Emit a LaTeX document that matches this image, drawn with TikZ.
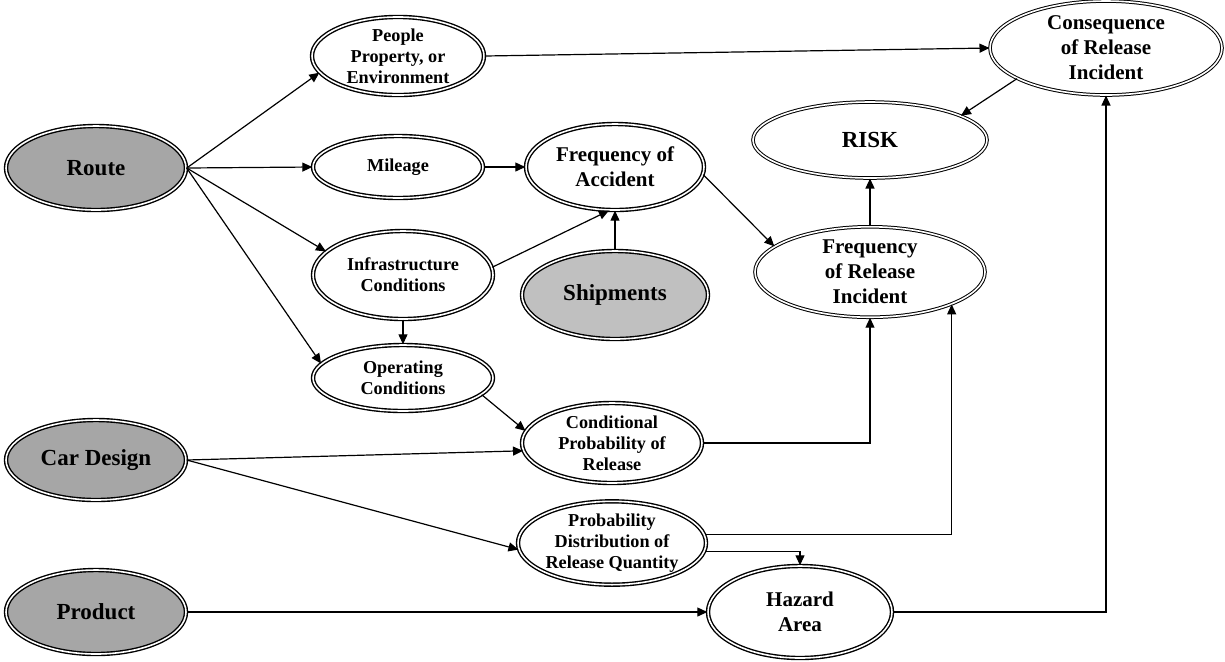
\documentclass[tikz,border=0pt]{standalone}
\usepackage{fontspec}
\setmainfont{Liberation Serif}
\usetikzlibrary{arrows.meta,shapes.geometric}
\definecolor{inputgray}{HTML}{A6A6A6}
\definecolor{shipgray}{HTML}{C0C0C0}

\begin{document}
\begin{tikzpicture}[x=0.5pt,y=-0.5pt,
 var/.style={ellipse,draw,double,double distance=0.8pt,line width=0.7pt,fill=white,align=center,inner sep=0pt},
 src/.style={var,fill=inputgray},
 outcome/.style={var,line width=0.5pt,double distance=0.8pt},
 big/.style={font=\bfseries\fontsize{11.5}{13}\selectfont},
 mid/.style={font=\bfseries\fontsize{10.5}{12.5}\selectfont},
 sml/.style={font=\bfseries\fontsize{9.1}{10.6}\selectfont},
 arr/.style={-{Triangle[length=5pt,width=4.5pt]},line width=0.6pt}]
\useasboundingbox (0,0) rectangle (1225,661);
% inputs
\node[src,big,minimum width=90pt,minimum height=42pt] (route) at (96,168) {Route};
\node[src,big,minimum width=90pt,minimum height=40pt] (cardesign) at (96,460) {Car Design};
\node[src,big,minimum width=90pt,minimum height=42pt] (product) at (96,612) {Product};
\node[src,big,fill=shipgray,minimum width=93pt,minimum height=44pt] (shipments) at (615,295) {Shipments};
% intermediate variables
\node[var,sml,minimum width=86pt,minimum height=38pt] (people) at (398,56) {People\\Property, or\\Environment};
\node[var,sml,minimum width=85pt,minimum height=31pt] (mileage) at (398,167) {Mileage};
\node[var,sml,minimum width=90pt,minimum height=44pt] (infra) at (403,275) {Infrastructure\\Conditions};
\node[var,sml,minimum width=90pt,minimum height=33pt] (operating) at (403,378) {Operating\\Conditions};
\node[var,mid,minimum width=89pt,minimum height=43pt] (accident) at (615,167) {Frequency of\\Accident};
\node[var,sml,minimum width=90pt,minimum height=40pt] (condprob) at (612,443) {Conditional\\Probability of\\Release};
\node[var,sml,minimum width=90pt,minimum height=40pt] (quantity) at (612,543) {Probability\\Distribution of\\Release Quantity};
\node[var,mid,minimum width=92pt,minimum height=46pt] (hazard) at (800,612) {Hazard\\Area};
% outcomes
\node[outcome,mid,minimum width=115pt,minimum height=45pt] (release) at (870,272) {Frequency\\of Release\\Incident};
\node[outcome,big,minimum width=117pt,minimum height=38pt] (risk) at (870,140) {RISK};
\node[outcome,mid,minimum width=116pt,minimum height=47pt] (consequence) at (1106,48) {Consequence\\of Release\\Incident};
% connectors
\draw[arr] (route.east)--(people.192);\draw[arr] (route.east)--(mileage.west);
\draw[arr] (route.east)--(infra.163);\draw[arr] (route.east)--(operating.170);
\draw[arr] (mileage.east)--(accident.west);\draw[arr] (infra.5)--(accident.262);
\draw[arr] (shipments.north)--(accident.south);\draw[arr] (infra.south)--(operating.north);
\draw[arr] (operating.-12)--(condprob.172);\draw[arr] (cardesign.east)--(condprob.185);
\draw[arr] (cardesign.east)--(quantity.184);\draw[arr] (product.east)--(hazard.west);
\draw[arr] (people.east)--(consequence.west);\draw[arr] (consequence.199)--(risk.15);
\draw[arr] (accident.-5)--(release.165);\draw[arr] (release.north)--(risk.south);
\draw[arr] (condprob.east)-|(release.south);\draw[arr] (quantity.5)-|(release.south east);
\draw[arr] (quantity.-5)-|(hazard.north);\draw[arr] (hazard.east)-|(consequence.south);
\end{tikzpicture}
\end{document}
